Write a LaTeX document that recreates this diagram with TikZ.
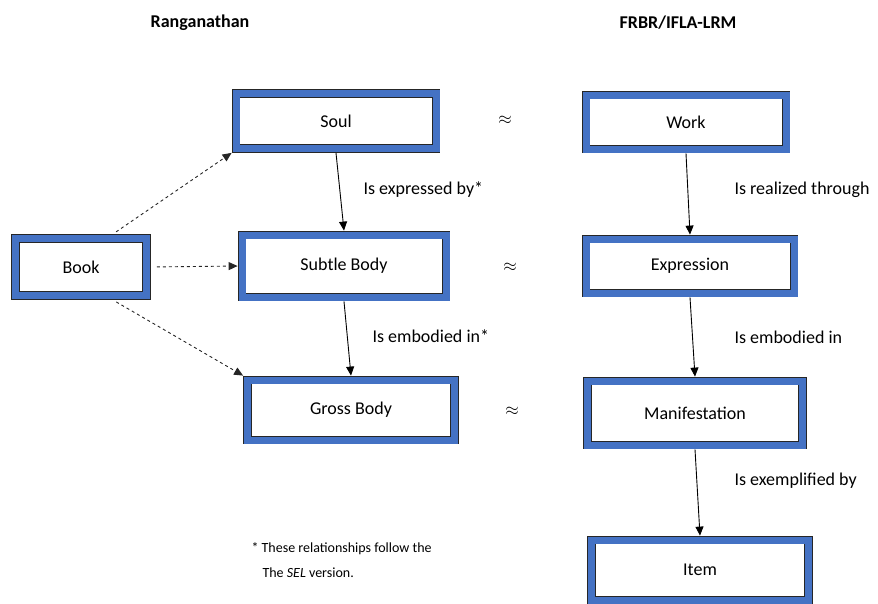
\documentclass[tikz,border=0pt]{standalone}
\usepackage{fontspec}
\setmainfont{Carlito}
\usepackage{amsmath}
\usetikzlibrary{arrows.meta}

\definecolor{boxblue}{HTML}{4472C4}
\tikzset{
  entity/.style={draw=black!85, line width=0.9pt, double=boxblue, double distance=7pt,
    fill=white, minimum height=56pt, outer sep=4.4pt, inner sep=0pt,
    font=\fontsize{18}{21}\selectfont},
  rel/.style={-{Triangle[length=9pt,width=8pt]}, line width=0.9pt},
  part/.style={-{Triangle[length=9pt,width=8pt]}, line width=0.9pt, black!85, dashed},
  lab/.style={anchor=west, font=\fontsize{18}{21}\selectfont},
  approx/.style={font=\fontsize{18}{21}\selectfont},
}

\begin{document}
\begin{tikzpicture}[x=1pt,y=-1pt]
		\useasboundingbox (0,0) rectangle (878,603);

		\node[font=\fontsize{18}{21}\bfseries] at (200,23) {Ranganathan};
		\node[font=\fontsize{18}{21}\bfseries] at (678,23) {FRBR/IFLA-LRM};

		% left column
		\node[entity, minimum width=131pt, minimum height=57pt] (book) at (81,267) {Book};
		\node[entity, minimum width=200pt, minimum height=55pt] (soul) at (336,121) {Soul};
		\node[entity, minimum width=204pt, minimum height=62pt] (subtle) at (344,266) {Subtle Body};
		\node[entity, minimum width=207pt, minimum height=60pt] (gross) at (351,410) {Gross Body};

		% right column
		\node[entity, minimum width=200pt, minimum height=54pt] (work) at (686,122) {Work};
		\node[entity, minimum width=208pt, minimum height=54pt] (expr) at (690,266) {Expression};
		\node[entity, minimum width=215pt, minimum height=64pt] (manif) at (695,413) {Manifestation};
		\node[entity, minimum width=217pt, minimum height=60pt] (item) at (700,570) {Item};

		\draw[part, shorten <=4pt] (book.46) -- (soul.south west);
		\draw[part, shorten <=6pt] (book.east) -- (subtle.west);
		\draw[part, shorten <=4pt] (book.-46) -- (gross.north west);

		\draw[rel] (soul.south) -- (subtle.north);
		\draw[rel] (subtle.south) -- (gross.north);
		\draw[rel] (work.south) -- (expr.north);
		\draw[rel] (expr.south) -- (manif.north);
		\draw[rel] (manif.south) -- (item.north);

		\node[lab] at (360,190) {Is expressed by*};
		\node[lab] at (369,336) {Is embodied in*};
		\node[lab] at (731,190) {Is realized through};
		\node[lab] at (731,337) {Is embodied in};
		\node[lab] at (731,481) {Is exemplified by};

		\node[approx] at (505,120) {$\approx$};
		\node[approx] at (510,267) {$\approx$};
		\node[approx] at (512,411) {$\approx$};

		\node[anchor=west, font=\fontsize{14}{17}\selectfont] at (248,549) {* These relationships follow the};
		\node[anchor=west, font=\fontsize{14}{17}\selectfont] at (259,573) {The \textit{SEL} version.};
	\end{tikzpicture}
\end{document}
